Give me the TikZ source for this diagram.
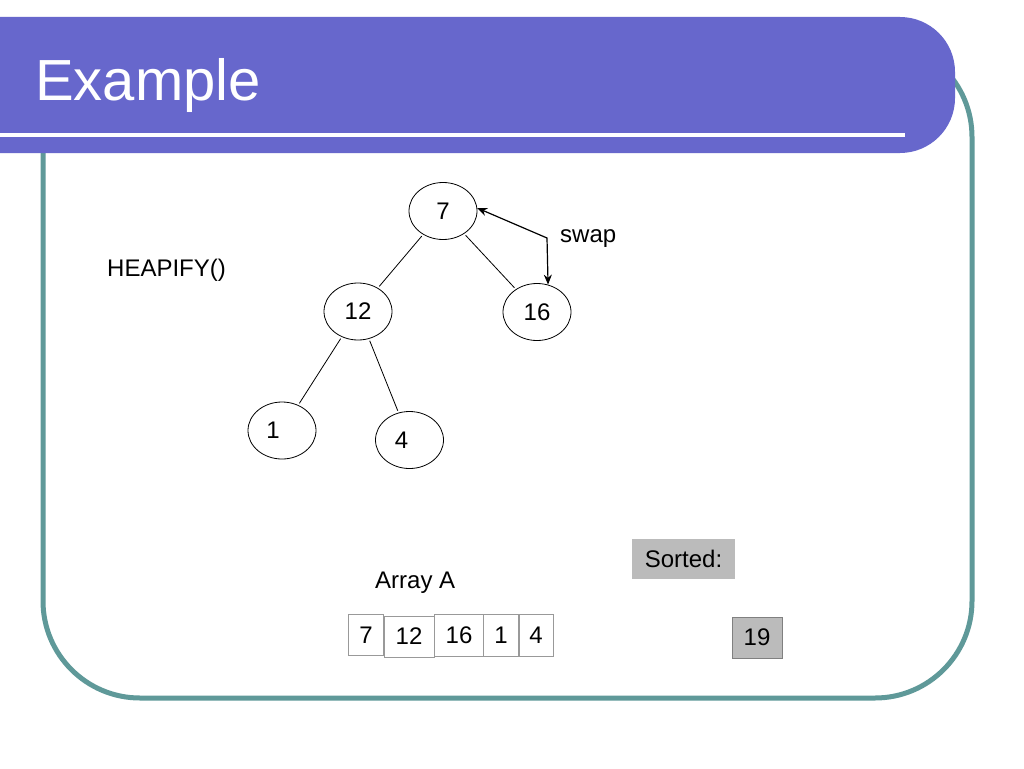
\documentclass[tikz,border=0pt]{standalone}
\usepackage{fontspec}
\setmainfont{Liberation Sans}
\usetikzlibrary{shapes.geometric,arrows.meta}
\definecolor{barblue}{HTML}{6767CC}
\definecolor{frameteal}{HTML}{5F9999}
\definecolor{boxgray}{HTML}{BBBBBB}
\definecolor{cellgray}{HTML}{999999}
\newcommand{\shiftl}[2]{\hspace*{-#1}#2\hspace*{#1}}
\tikzset{
  heapnode/.style={ellipse, draw=black, line width=0.8pt, minimum width=68pt, minimum height=57pt, inner sep=0pt, font=\fontsize{24}{28}\selectfont},
  treeedge/.style={draw=black, line width=0.8pt},
  cell/.style={rectangle, draw=cellgray, line width=0.8pt, inner sep=0pt, font=\fontsize{24}{28}\selectfont},
  graybox/.style={rectangle, fill=boxgray, inner sep=0pt, font=\fontsize{24}{28}\selectfont},
  plaintext/.style={inner sep=0pt, font=\fontsize{24}{28}\selectfont},
}
\begin{document}
\begin{tikzpicture}[x=1pt,y=-1pt]
\path[use as bounding box, fill=white] (0,0) rectangle (1024,768);
% teal frame
\draw[frameteal, line width=5pt, rounded corners=97pt] (43,40) rectangle (972,698);
% title bar
\fill[barblue, rounded corners=55pt] (-80,17) rectangle (955,153);
\draw[white, line width=4pt] (0,135) -- (905,135);
\node[anchor=base west, inner sep=0pt, text=white, font=\fontsize{58}{68}\selectfont] (title) at (35,100) {Example};
% tree
\node[heapnode] (n7) at (443,211) {7};
\node[heapnode] (n12) at (358,311.5) {12};
\node[heapnode] (n16) at (537,312) {16};
\node[heapnode] (n1) at (282,430.5) {\shiftl{9pt}{1}};
\node[heapnode] (n4) at (409.5,440) {\shiftl{8pt}{4}};
\draw[treeedge, shorten <=2pt, shorten >=2pt] (n7) -- (n12);
\draw[treeedge, shorten <=2pt, shorten >=2pt] (n7) -- (n16);
\draw[treeedge, shorten <=2pt, shorten >=2pt] (n12) -- (n1);
\draw[treeedge, shorten <=2pt, shorten >=2pt] (n12) -- (n4);
% swap arrow
\coordinate (bend) at (547,238);
\draw[line width=1.2pt, {Stealth[length=10pt,width=8pt]}-{Stealth[length=10pt,width=8pt]}] (n7.5) -- (bend) -- (n16.68);
\node[plaintext, anchor=base west] (swap) at (560,242) {swap};
\node[plaintext, anchor=base west] (heap) at (107,276) {HEAPIFY()};
% array
\node[plaintext, anchor=base west] (arr) at (375,588) {Array A};
\node[cell, minimum width=35pt, minimum height=41pt] (c1) at (366,635) {7};
\node[cell, minimum width=50pt, minimum height=41pt] (c2) at (409,636.5) {12};
\node[cell, minimum width=49pt, minimum height=42pt] (c3) at (459,635) {16};
\node[cell, minimum width=35pt, minimum height=42pt] (c4) at (501,635) {1};
\node[cell, minimum width=34pt, minimum height=42pt] (c5) at (536,635) {4};
% sorted
\node[graybox, minimum width=103pt, minimum height=40pt] (sorted) at (683.5,559) {Sorted:};
\node[graybox, draw=gray, line width=0.8pt, minimum width=50pt, minimum height=41pt] (s19) at (757,637.5) {19};
\end{tikzpicture}
\end{document}
